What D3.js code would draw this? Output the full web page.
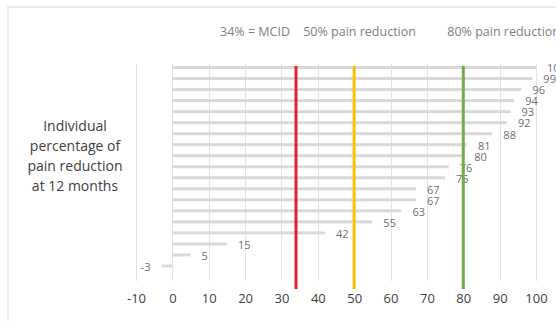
<!DOCTYPE html>
<html>
<head>
<meta charset="utf-8">
<script src="https://cdn.jsdelivr.net/npm/d3@7"></script>
<style>
  html, body { margin: 0; padding: 0; background: #fff; }
  svg { display: block; font-family: "Open Sans", sans-serif; }
</style>
</head>
<body>
<svg id="chart" width="556" height="321"></svg>
<script>
// Data (top to bottom)
const patients = ["P1","P2","P3","P4","P5","P6","P7","P8","P9","P10","P11","P12","P13","P14","P15","P16","P17","P18","P19"];
const reduction = [100, 99, 96, 94, 93, 92, 88, 81, 80, 76, 75, 67, 67, 63, 55, 42, 15, 5, -3];
const thresholdValues = [34, 50, 80];
const thresholdLabels = ["34% = MCID", "50% pain reduction", "80% pain reduction"];
const thresholdColors = ["#e3222b", "#ffc000", "#70ad47"];
const xTicks = [-10, 0, 10, 20, 30, 40, 50, 60, 70, 80, 90, 100];
const yTitle = ["Individual", "percentage of", "pain reduction", "at 12 months"];

const svg = d3.select("#chart");
const W = 556, H = 321;

// Frame
svg.append("rect").attr("x", 8).attr("y", 7).attr("width", W + 20).attr("height", H + 20)
  .attr("fill", "none").attr("stroke", "#e6e6e6").attr("stroke-width", 1.5);

const x = d3.scaleLinear().domain([-10, 100]).range([136, 536]);
const y = d3.scaleBand().domain(patients).range([62, 271.5]).paddingInner(0).paddingOuter(0);

const gridTop = 64, gridBottom = 281;

// Gridlines
svg.append("g").selectAll("line").data(xTicks).join("line")
  .attr("x1", d => Math.round(x(d)) + 0.5).attr("x2", d => Math.round(x(d)) + 0.5)
  .attr("y1", gridTop).attr("y2", gridBottom)
  .attr("stroke", "#e3e3e3").attr("stroke-width", 1);

// Bars
const barH = 3;
svg.append("g").selectAll("rect").data(reduction).join("rect")
  .attr("x", d => x(Math.min(0, d)))
  .attr("width", d => Math.abs(x(d) - x(0)))
  .attr("y", (d, i) => y(patients[i]) + y.bandwidth() / 2 - barH / 2)
  .attr("height", barH)
  .attr("fill", "#d9d9d9");

// Bar labels
svg.append("g").selectAll("text").data(reduction).join("text")
  .attr("x", d => d >= 0 ? x(d) + 11 : x(d) - 11)
  .attr("y", (d, i) => y(patients[i]) + y.bandwidth() / 2 + 1)
  .attr("dy", "0.35em")
  .attr("text-anchor", d => d >= 0 ? "start" : "end")
  .attr("font-size", 11)
  .attr("fill", "#6f6f6f")
  .text(d => String(d));

// Threshold lines
svg.append("g").selectAll("line").data(thresholdValues).join("line")
  .attr("x1", d => x(d)).attr("x2", d => x(d))
  .attr("y1", 66).attr("y2", 289)
  .attr("stroke", (d, i) => thresholdColors[i])
  .attr("stroke-width", 3);

// Threshold headers
const headerAnchor = ["end", "start", "start"];
const headerOffset = [-6, -51, -16];
svg.append("g").selectAll("text").data(thresholdValues).join("text")
  .attr("x", (d, i) => x(d) + headerOffset[i])
  .attr("y", 36)
  .attr("text-anchor", (d, i) => headerAnchor[i])
  .attr("font-size", 12.5)
  .attr("fill", "#7f7f7f")
  .text((d, i) => thresholdLabels[i]);

// X axis tick labels
const xAxis = d3.axisBottom(x).tickValues(xTicks).tickSize(0).tickPadding(0).tickFormat(d => String(d));
const gx = svg.append("g").attr("transform", "translate(0,294)").call(xAxis);
gx.select(".domain").remove();
gx.selectAll("text").attr("font-size", 13).attr("fill", "#404040")
  .attr("font-family", "Open Sans, sans-serif");

// Y title
svg.append("text")
  .attr("x", 75).attr("y", 131)
  .attr("text-anchor", "middle")
  .attr("font-size", 14)
  .attr("fill", "#404040")
  .selectAll("tspan").data(yTitle).join("tspan")
  .attr("x", 75).attr("dy", (d, i) => i === 0 ? 0 : 20)
  .text(d => d);
</script>
</body>
</html>
